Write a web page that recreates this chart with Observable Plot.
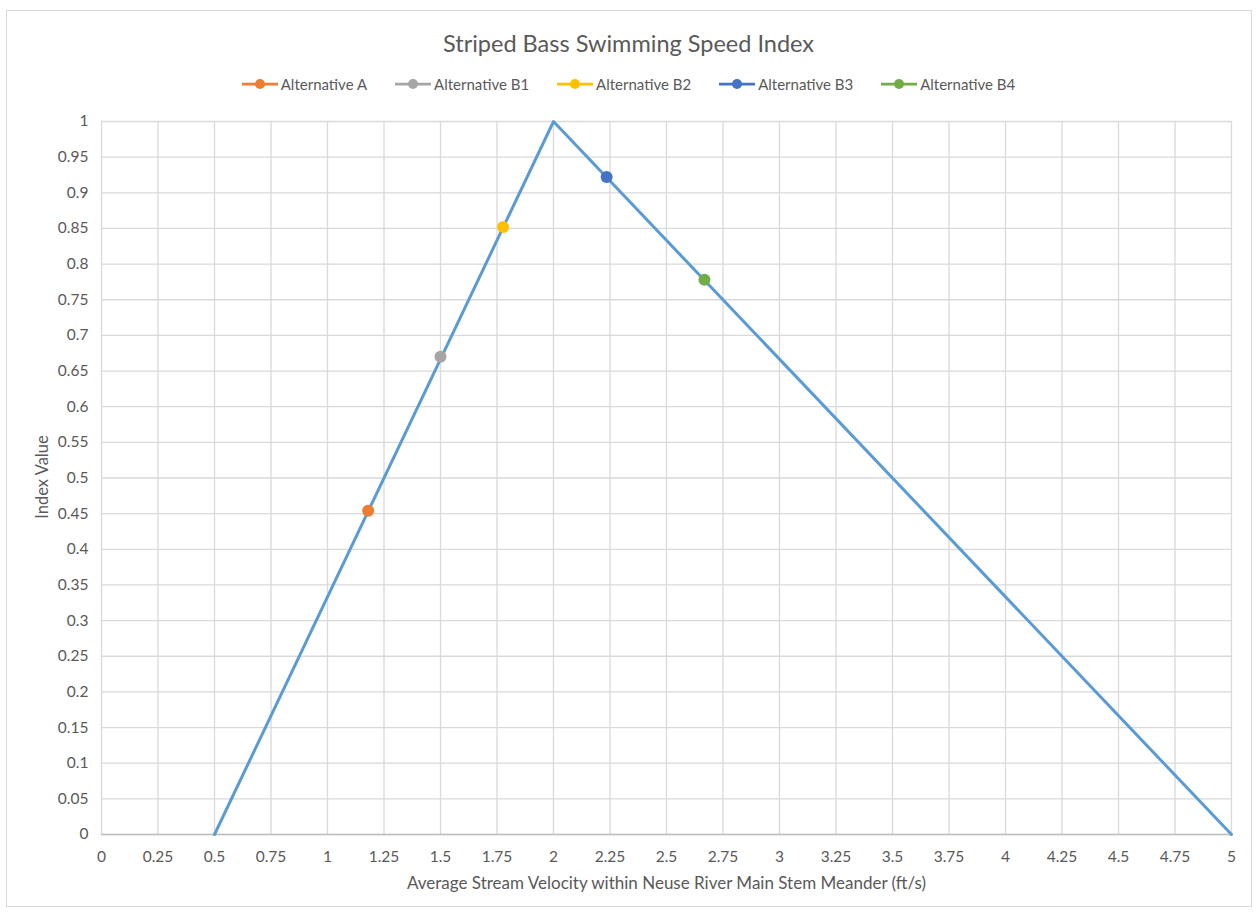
<!DOCTYPE html>
<html>
<head>
<meta charset="utf-8">
<script src="https://cdn.jsdelivr.net/npm/d3@7"></script>
<script src="https://cdn.jsdelivr.net/npm/@observablehq/plot@0.6"></script>
<style>
  html, body { margin: 0; padding: 0; background: #fff; }
  #page { position: relative; width: 1257px; height: 914px; overflow: hidden; font-family: Lato, sans-serif; color: #595959; }
  #frame { position: absolute; left: 6px; top: 10px; width: 1246px; height: 897px; border: 1px solid #d9d9d9; box-sizing: border-box; }
  #title { position: absolute; left: 0; width: 1257px; top: 28px; text-align: center; font-size: 23.5px; line-height: 30px; color: #595959; }
  #legend { position: absolute; left: 0; width: 1257px; top: 74px; text-align: center; font-size: 15px; line-height: 20px; color: #595959; display: flex; justify-content: center; gap: 28px; }
  .item { display: flex; align-items: center; gap: 3px; }
  #chart { position: absolute; left: 0; top: 100px; }
  #ylabel { position: absolute; left: 42px; top: 477px; transform: translate(-50%, -50%) rotate(-90deg); font-size: 16.5px; white-space: nowrap; }
  #chart svg { overflow: visible; }
</style>
</head>
<body>
<div id="page">
  <div id="frame"></div>
  <div id="title"></div>
  <div id="legend"></div>
  <div id="chart"></div>
  <div id="ylabel"></div>
</div>
<script>
const titleText = "Striped Bass Swimming Speed Index";
const xLabel = "Average Stream Velocity within Neuse River Main Stem Meander (ft/s)";
const yLabel = "Index Value";

// Index curve vertices
const curveX = [0.5, 2, 5];
const curveY = [0, 1, 0];

// Alternatives
const altNames = ["Alternative A", "Alternative B1", "Alternative B2", "Alternative B3", "Alternative B4"];
const altX = [1.18, 1.5, 1.777, 2.235, 2.668];
const altY = [0.454, 0.67, 0.852, 0.922, 0.778];
const altColors = ["#ED7D31", "#A5A5A5", "#FFC000", "#4472C4", "#70AD47"];

const xTicks = [0, 0.25, 0.5, 0.75, 1, 1.25, 1.5, 1.75, 2, 2.25, 2.5, 2.75, 3, 3.25, 3.5, 3.75, 4, 4.25, 4.5, 4.75, 5];
const xTickLabels = ["0","0.25","0.5","0.75","1","1.25","1.5","1.75","2","2.25","2.5","2.75","3","3.25","3.5","3.75","4","4.25","4.5","4.75","5"];
const yTicks = [0, 0.05, 0.1, 0.15, 0.2, 0.25, 0.3, 0.35, 0.4, 0.45, 0.5, 0.55, 0.6, 0.65, 0.7, 0.75, 0.8, 0.85, 0.9, 0.95, 1];
const yTickLabels = ["0","0.05","0.1","0.15","0.2","0.25","0.3","0.35","0.4","0.45","0.5","0.55","0.6","0.65","0.7","0.75","0.8","0.85","0.9","0.95","1"];

const curve = curveX.map((x, i) => ({x, y: curveY[i]}));
const alts = altNames.map((name, i) => ({name, x: altX[i], y: altY[i], color: altColors[i]}));

document.getElementById("title").textContent = titleText;
document.getElementById("ylabel").textContent = yLabel;

const legend = document.getElementById("legend");
alts.forEach(a => {
  const item = document.createElement("div");
  item.className = "item";
  item.innerHTML = `<svg width="36" height="14"><line x1="0" x2="36" y1="7" y2="7" stroke="${a.color}" stroke-width="2.75"/><circle cx="18" cy="7" r="5" fill="${a.color}"/></svg><span>${a.name}</span>`;
  legend.appendChild(item);
});

const chart = Plot.plot({
  width: 1257,
  height: 800,
  marginLeft: 101,
  marginRight: 26,
  marginTop: 21,
  marginBottom: 66,
  style: { fontFamily: "Lato, sans-serif", fontSize: "15.5px", color: "#595959", background: "transparent", overflow: "visible" },
  x: { domain: [0, 5] },
  y: { domain: [0, 1], ticks: yTicks, tickFormat: d => yTickLabels[yTicks.indexOf(d)], tickSize: 0, tickPadding: 13, label: null },
  marks: [
    Plot.gridX(xTicks, { stroke: "#d9d9d9", strokeOpacity: 1, strokeWidth: 1.3 }),
    Plot.gridY(yTicks, { stroke: "#d9d9d9", strokeOpacity: 1, strokeWidth: 1.3 }),
    Plot.ruleY([0], { stroke: "#bfbfbf", strokeWidth: 1.3 }),
    Plot.axisX(xTicks, { tickFormat: d => xTickLabels[xTicks.indexOf(d)], tickSize: 0, tickPadding: 16, label: null }),
    Plot.axisX({ ticks: [], label: xLabel, labelAnchor: "center", labelArrow: "none", labelOffset: 54, fontSize: 17, tickSize: 0 }),
    Plot.line(curve, { x: "x", y: "y", stroke: "#5B9BD5", strokeWidth: 3 }),
    Plot.dot(alts, { x: "x", y: "y", fill: "color", r: 6 })
  ]
});
document.getElementById("chart").appendChild(chart);
</script>
</body>
</html>
